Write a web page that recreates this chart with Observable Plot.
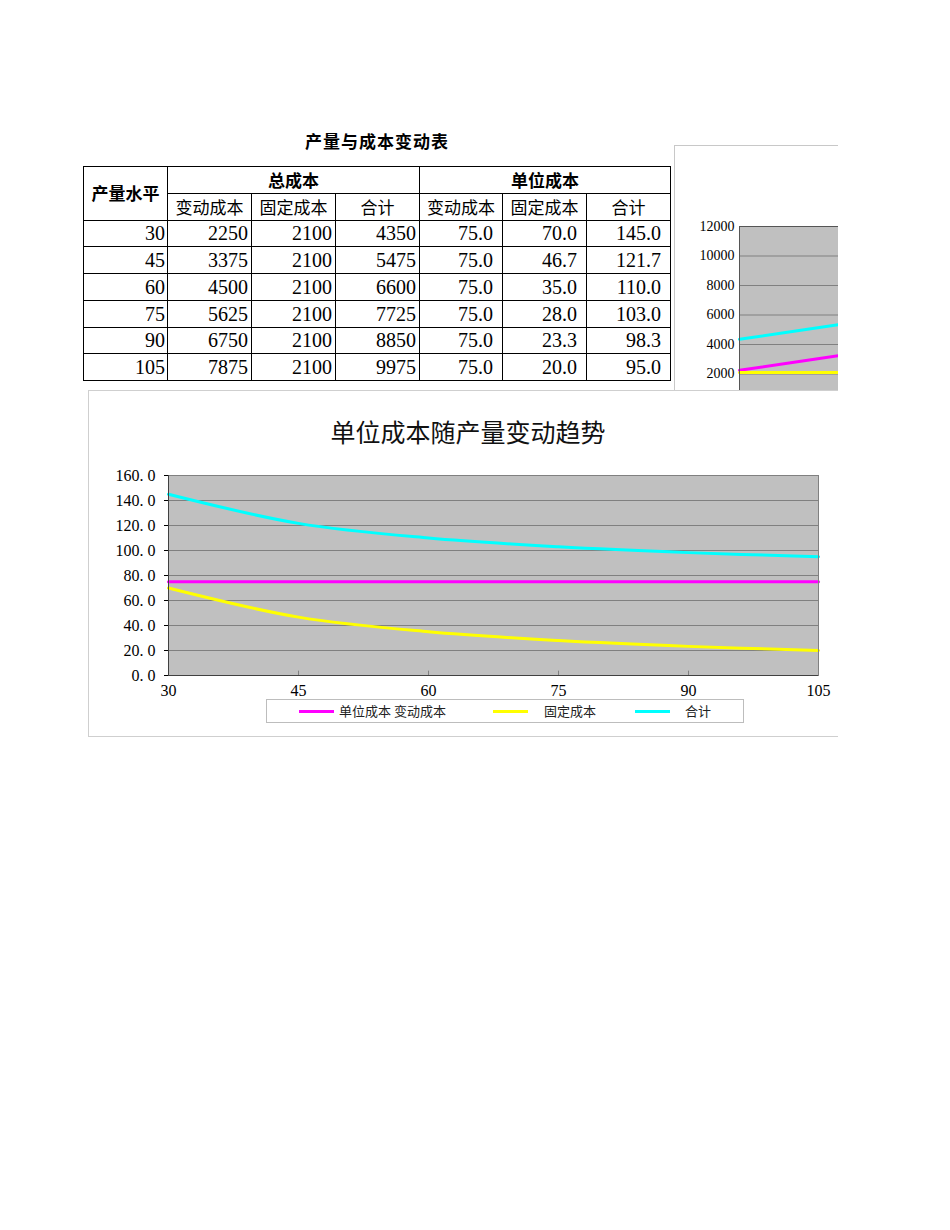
<!DOCTYPE html>
<html><head><meta charset="utf-8">
<script src="https://cdn.jsdelivr.net/npm/d3@7"></script>
<script src="https://cdn.jsdelivr.net/npm/@observablehq/plot@0.6"></script>
<style>
body{margin:0;background:#fff;width:950px;height:1230px;position:relative;overflow:hidden;font-family:"Liberation Serif","Noto Sans CJK SC",serif;color:#000;}
svg{max-width:none !important;}
#ttitle{position:absolute;left:277px;width:200px;top:128px;text-align:center;font:bold 17px "Noto Sans CJK SC";letter-spacing:1px;}
#tbl{position:absolute;left:83px;top:166px;border-collapse:collapse;table-layout:fixed;width:588px;}
#tbl td{border:1px solid #000;padding:0;height:25.75px;font-size:20px;line-height:24px;text-align:right;white-space:nowrap;overflow:hidden;}
#tbl td.h{font:17px "Noto Sans CJK SC";text-align:center;line-height:24px;}
#tbl td.hb{font-weight:bold;}
#tbl td.t{padding-right:3px;}
#tbl td.u{padding-right:9px;}
#tbl td.o{padding-right:2px;}
#bg{position:absolute;left:674px;top:145px;width:164px;height:245px;overflow:hidden;border-top:1px solid #c8c8c8;border-left:1px solid #c8c8c8;box-sizing:border-box;background:#fff;}
#bgplot{position:absolute;left:-2px;top:-1px;width:700px;}
#main{position:absolute;left:88px;top:390px;width:750px;height:347px;overflow:hidden;border-top:1px solid #cfcfcf;border-left:1px solid #cfcfcf;border-bottom:1px solid #cfcfcf;box-sizing:border-box;background:#fff;}
#mtitle{position:absolute;left:0;width:758px;top:22px;text-align:center;font:25px "Noto Sans CJK SC";color:#111;}
#mplot{position:absolute;left:-2px;top:58px;width:752px;}
#legend{position:absolute;left:177px;top:308px;width:478px;height:24px;border:1px solid #bdbdbd;box-sizing:border-box;background:#fff;font:13px "Noto Sans CJK SC";}
#legend .sw{position:absolute;top:10px;height:3px;}
#legend .lt{position:absolute;top:2px;line-height:18px;white-space:nowrap;color:#222;}
</style></head><body>
<div id="ttitle">产量与成本变动表</div>
<table id="tbl"></table>
<div id="bg"><div id="bgplot"></div></div>
<div id="main"><div id="mtitle">单位成本随产量变动趋势</div><div id="mplot"></div>
<div id="legend"></div></div>
<script>
// ---- data ----
const output = [30, 45, 60, 75, 90, 105];
const totalVariable = [2250, 3375, 4500, 5625, 6750, 7875];
const totalFixed = [2100, 2100, 2100, 2100, 2100, 2100];
const totalSum = [4350, 5475, 6600, 7725, 8850, 9975];
const unitVariable = [75.0, 75.0, 75.0, 75.0, 75.0, 75.0];
const unitFixed = [70.0, 46.7, 35.0, 28.0, 23.3, 20.0];
const unitSum = [145.0, 121.7, 110.0, 103.0, 98.3, 95.0];
const unitTicks = [0, 20, 40, 60, 80, 100, 120, 140, 160];
const totalTicks = [0, 2000, 4000, 6000, 8000, 10000, 12000];
const seriesNames = ["单位成本 变动成本", "固定成本", "合计"];
const seriesColors = ["#ff00ff", "#ffff00", "#00ffff"];

// ---- table ----
const tbl = document.getElementById("tbl");
const colw = [84, 84, 84, 84, 83, 84, 84];
let html = "<colgroup>" + colw.map(w => `<col style="width:${w}px">`).join("") + "</colgroup>";
html += `<tr><td class="h hb" rowspan="2">产量水平</td><td class="h hb" colspan="3">总成本</td><td class="h hb" colspan="3">单位成本</td></tr>`;
html += "<tr>" + ["变动成本","固定成本","合计","变动成本","固定成本","合计"].map(t => `<td class="h">${t}</td>`).join("") + "</tr>";
output.forEach((o, i) => {
  html += `<tr><td class="o">${o}</td><td class="t">${totalVariable[i]}</td><td class="t">${totalFixed[i]}</td><td class="t">${totalSum[i]}</td>` +
    `<td class="u">${unitVariable[i].toFixed(1)}</td><td class="u">${unitFixed[i].toFixed(1)}</td><td class="u">${unitSum[i].toFixed(1)}</td></tr>`;
});
tbl.innerHTML = html;

// ---- background (total cost) chart, mostly hidden ----
const totalSeries = [totalVariable, totalFixed, totalSum];
const totalRows = totalSeries.flatMap((arr, s) => output.map((x, i) => ({x, y: arr[i], s})));
const bgPlot = Plot.plot({
  width: 700, height: 300,
  marginTop: 81, marginBottom: 42, marginLeft: 66, marginRight: 74,
  x: {domain: [30, 105]},
  y: {domain: [0, 12000]},
  style: {fontFamily: "Liberation Serif", fontSize: "14px", background: "transparent", color: "#000", maxWidth: "none"},
  marks: [
    Plot.frame({fill: "#c0c0c0"}),
    Plot.gridY(totalTicks, {stroke: "#808080", strokeOpacity: 1}),
    ...[0, 1, 2].map(s => Plot.line(totalRows.filter(d => d.s === s), {x: "x", y: "y", stroke: seriesColors[s], strokeWidth: 3, curve: "catmull-rom"})),
    Plot.ruleX([30], {stroke: "#555"}),
    Plot.ruleY([12000], {stroke: "#555"}),
    Plot.axisY({ticks: totalTicks.filter(t => t > 0), tickSize: 0, tickPadding: 5, label: null, tickFormat: d => String(d), fontSize: 14}),
    Plot.axisX({ticks: [], label: null})
  ]
});
document.getElementById("bgplot").appendChild(bgPlot);

// ---- main chart ----
const unitSeries = [unitVariable, unitFixed, unitSum];
const unitRows = unitSeries.flatMap((arr, s) => output.map((x, i) => ({x, y: arr[i], s})));
const mainPlot = Plot.plot({
  width: 752, height: 260,
  marginTop: 26, marginBottom: 34, marginLeft: 81, marginRight: 21,
  x: {domain: [30, 105]},
  y: {domain: [0, 160]},
  style: {fontFamily: "Liberation Serif", fontSize: "16px", background: "transparent", color: "#000", maxWidth: "none"},
  marks: [
    Plot.frame({fill: "#c0c0c0"}),
    Plot.gridY(unitTicks, {stroke: "#808080", strokeOpacity: 1}),
    Plot.ruleX(output.slice(1, -1), {y1: 0, y2: 3.5, stroke: "#808080"}),
    ...[0, 1, 2].map(s => Plot.line(unitRows.filter(d => d.s === s), {x: "x", y: "y", stroke: seriesColors[s], strokeWidth: 3, curve: "catmull-rom"})),
    Plot.frame({stroke: "#808080"}),
    Plot.ruleX([30], {stroke: "#404040"}),
    Plot.ruleY([0], {stroke: "#404040"}),
    Plot.axisY({ticks: unitTicks, tickSize: 4, tickPadding: 9, label: null, tickFormat: d => d.toFixed(1).replace(".", ". "), fontSize: 16}),
    Plot.axisX({ticks: output, tickSize: 0, tickPadding: 9, label: null, fontSize: 16})
  ]
});
document.getElementById("mplot").appendChild(mainPlot);

// ---- legend ----
const legend = document.getElementById("legend");
const swX = [32, 226, 368], txX = [72, 277, 418];
seriesNames.forEach((n, i) => {
  const sw = document.createElement("div");
  sw.className = "sw"; sw.style.left = swX[i] + "px"; sw.style.width = "35px"; sw.style.background = seriesColors[i];
  legend.appendChild(sw);
  const t = document.createElement("div");
  t.className = "lt"; t.style.left = txX[i] + "px"; t.textContent = n;
  legend.appendChild(t);
});
</script>
</body></html>
